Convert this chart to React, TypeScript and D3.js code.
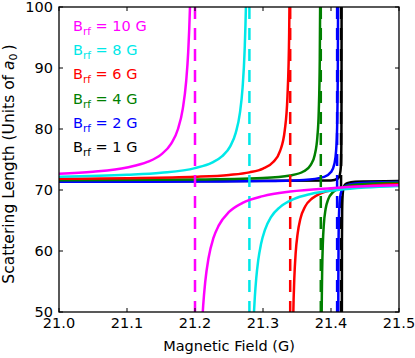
import React from "react";
import * as d3 from "d3";

// Series: [field (G), scattering length (a0)]
const magentaUpper: [number, number][] = [
  [21.0, 72.65], [21.05, 73.0], [21.1, 73.7], [21.13, 74.6], [21.15, 75.8], [21.165, 77.6],
  [21.175, 80.0], [21.182, 83.3], [21.187, 87.8], [21.19, 92.6], [21.1925, 99.6], [21.194, 106.6],
];
const magentaLower: [number, number][] = [
  [21.2105, 48.35], [21.212, 51.0], [21.215, 54.9], [21.22, 58.9], [21.227, 62.1], [21.235, 64.2],
  [21.25, 66.4], [21.27, 67.9], [21.3, 69.0], [21.34, 69.75], [21.4, 70.3], [21.45, 70.6], [21.5, 70.76],
];
const cyanUpper: [number, number][] = [
  [21.0, 72.17], [21.1, 72.49], [21.15, 72.83], [21.2, 73.59], [21.225, 74.48], [21.24, 75.55],
  [21.252, 77.2], [21.26, 79.4], [21.266, 82.6], [21.27, 86.8], [21.273, 92.9], [21.275, 100.7],
  [21.2765, 111.6],
];
const cyanLower: [number, number][] = [
  [21.2865, 49.5], [21.288, 52.5], [21.29, 55.45], [21.293, 58.5], [21.297, 61.1], [21.303, 63.5],
  [21.312, 65.6], [21.325, 67.2], [21.345, 68.5], [21.37, 69.34], [21.41, 70.0], [21.45, 70.4],
  [21.5, 70.66],
];
const redUpper: [number, number][] = [
  [21.0, 71.83], [21.1, 71.93], [21.2, 72.16], [21.25, 72.47], [21.28, 72.89], [21.3, 73.51],
  [21.315, 74.59], [21.325, 76.36], [21.332, 79.76], [21.336, 85.4], [21.3385, 95.8], [21.3395, 106.4],
];
const redLower: [number, number][] = [
  [21.344, 46.7], [21.345, 52.0], [21.346, 55.4], [21.348, 59.6], [21.351, 62.9], [21.355, 65.3],
  [21.362, 67.3], [21.372, 68.6], [21.385, 69.45], [21.41, 70.2], [21.45, 70.67], [21.5, 70.93],
];
const greenUpper: [number, number][] = [
  [21.0, 71.6], [21.2, 71.72], [21.3, 71.97], [21.34, 72.38], [21.36, 73.07], [21.37, 74.08],
  [21.376, 75.71], [21.38, 78.77], [21.382, 82.9], [21.3835, 91.5], [21.3843, 104.8],
];
const greenLower: [number, number][] = [
  [21.3861, 47.2], [21.3865, 52.6], [21.387, 56.7], [21.388, 61.2], [21.3895, 64.4], [21.392, 66.84],
  [21.396, 68.5], [21.403, 69.64], [21.415, 70.38], [21.44, 70.9], [21.5, 71.2],
];
const blueUpper: [number, number][] = [
  [21.0, 71.34], [21.2, 71.39], [21.3, 71.46], [21.36, 71.65], [21.39, 72.16], [21.4, 72.94],
  [21.405, 74.3], [21.4075, 76.44], [21.409, 80.3], [21.41, 89.3], [21.4104, 101.3], [21.4106, 116.3],
];
const blueLower: [number, number][] = [
  [21.4106, 44.7], [21.4108, 55.4], [21.4112, 62.5], [21.412, 66.7], [21.4135, 68.9], [21.416, 70.0],
  [21.422, 70.72], [21.435, 71.08], [21.46, 71.24], [21.5, 71.31],
];
const blackUpper: [number, number][] = [
  [21.0, 71.36], [21.4, 71.55], [21.41, 71.85], [21.413, 72.5], [21.4145, 73.85], [21.415, 75.6],
  [21.4153, 78.85], [21.4155, 86.35], [21.4156, 101.35],
];
const blackLower: [number, number][] = [
  [21.4159, 41.5], [21.4161, 61.5], [21.4164, 66.5], [21.4168, 68.5], [21.4178, 70.0], [21.4198, 70.75],
  [21.4238, 71.13], [21.4358, 71.35], [21.5, 71.47],
];

const rfFields = [10, 8, 6, 4, 2, 1];
const seriesColors = ["#ff00ff", "#00e8e8", "#ff0000", "#008000", "#0000ff", "#000000"];
const resonancePositions = [21.2, 21.28, 21.34, 21.385, 21.409, 21.4148];
const upperBranches = [magentaUpper, cyanUpper, redUpper, greenUpper, blueUpper, blackUpper];
const lowerBranches = [magentaLower, cyanLower, redLower, greenLower, blueLower, blackLower];

const xTicks = [21.0, 21.1, 21.2, 21.3, 21.4, 21.5];
const yTicks = [50, 60, 70, 80, 90, 100];

const W = 415;
const H = 358;
const M = { left: 59, right: 399, top: 7, bottom: 312 };
const FONT = "DejaVu Sans";

export default function App() {
  const x = d3.scaleLinear().domain([21.0, 21.5]).range([M.left, M.right]);
  const y = d3.scaleLinear().domain([50, 100]).range([M.bottom, M.top]);
  const line = d3
    .line<[number, number]>()
    .x((d) => x(d[0]))
    .y((d) => y(d[1]))
    .curve(d3.curveMonotoneX);

  // draw order: 1 G first, 10 G last (on top)
  const order = [5, 4, 3, 2, 1, 0];

  return (
    <svg
      width={W}
      height={H}
      style={{ position: "absolute", left: 0, top: 0, background: "#fff" }}
      fontFamily={FONT}
    >
      <defs>
        <clipPath id="plot">
          <rect x={M.left} y={M.top} width={M.right - M.left} height={M.bottom - M.top} />
        </clipPath>
      </defs>
      <rect x={0} y={0} width={W} height={H} fill="#fff" />
      <g clipPath="url(#plot)">
        {order.map((i) => (
          <g key={i}>
            <path d={line(upperBranches[i]) || ""} fill="none" stroke={seriesColors[i]} strokeWidth={2.5} />
            <path d={line(lowerBranches[i]) || ""} fill="none" stroke={seriesColors[i]} strokeWidth={2.5} />
            <line
              x1={x(resonancePositions[i])}
              x2={x(resonancePositions[i])}
              y1={M.top}
              y2={M.bottom}
              stroke={seriesColors[i]}
              strokeWidth={2.5}
              strokeDasharray="12,9"
            />
          </g>
        ))}
      </g>
      {/* ticks */}
      {xTicks.map((t) => (
        <g key={"xt" + t}>
          <line x1={x(t)} x2={x(t)} y1={M.bottom} y2={M.bottom - 4} stroke="#000" strokeWidth={1} />
          <line x1={x(t)} x2={x(t)} y1={M.top} y2={M.top + 4} stroke="#000" strokeWidth={1} />
          <text x={x(t)} y={328} fontSize={14.5} textAnchor="middle" fill="#000">
            {t.toFixed(1)}
          </text>
        </g>
      ))}
      {yTicks.map((t) => (
        <g key={"yt" + t}>
          <line x1={M.left} x2={M.left + 4} y1={y(t)} y2={y(t)} stroke="#000" strokeWidth={1} />
          <line x1={M.right} x2={M.right - 4} y1={y(t)} y2={y(t)} stroke="#000" strokeWidth={1} />
          <text x={53} y={y(t) + 4.8} fontSize={14.5} textAnchor="end" fill="#000">
            {t}
          </text>
        </g>
      ))}
      <rect
        x={M.left}
        y={M.top}
        width={M.right - M.left}
        height={M.bottom - M.top}
        fill="none"
        stroke="#000"
        strokeWidth={1.3}
      />
      {/* legend */}
      {rfFields.map((f, i) => (
        <text key={"lg" + f} x={73} y={30.7 + i * 24.3} fontSize={14.5} fill={seriesColors[i]}>
          B
          <tspan fontSize={10.5} dy={4}>rf</tspan>
          <tspan dy={-4}>{` = ${f} G`}</tspan>
        </text>
      ))}
      {/* axis labels */}
      <text x={(M.left + M.right) / 2} y={351} fontSize={14.5} textAnchor="middle" fill="#000">
        Magnetic Field (G)
      </text>
      <text
        transform={`translate(14, 164) rotate(-90)`}
        fontSize={15.5}
        textAnchor="middle"
        fill="#000"
      >
        Scattering Length (Units of <tspan fontStyle="italic">a</tspan>
        <tspan fontSize={11} dy={3}>0</tspan>
        <tspan dy={-3}>{"\u2009)"}</tspan>
      </text>
    </svg>
  );
}
